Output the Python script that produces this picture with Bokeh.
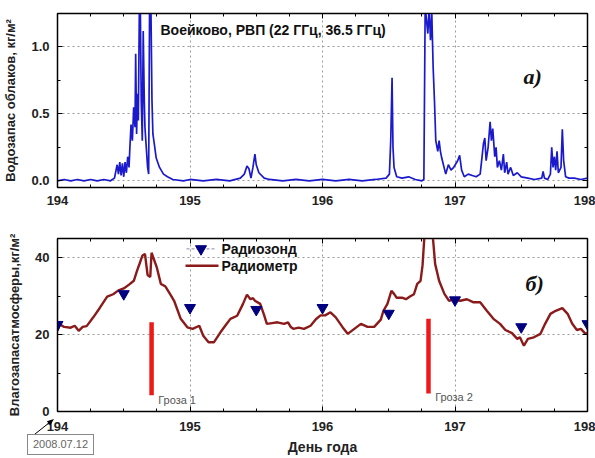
import math
from bokeh.plotting import figure
from bokeh.layouts import column
from bokeh.models import (Range1d, LinearAxis, Label, Div,
                          SingleIntervalTicker, NumeralTickFormatter, CustomJSTickFormatter)
from bokeh.embed import file_html
from bokeh.resources import INLINE

# ---------------- data ----------------
# panel a) cloud liquid water path, kg/m2
lwc_day = [194.00, 194.05, 194.10, 194.15, 194.20, 194.25, 194.30, 194.35, 194.40, 194.43,
           194.45, 194.46, 194.47, 194.48, 194.49, 194.50, 194.51, 194.52, 194.53, 194.54,
           194.545, 194.555, 194.565, 194.575, 194.585, 194.59, 194.597, 194.603, 194.61, 194.618,
           194.625, 194.632, 194.64, 194.647, 194.655, 194.66, 194.67, 194.68, 194.688, 194.695,
           194.705, 194.713, 194.72, 194.73, 194.745, 194.77, 194.80, 194.83, 194.87, 194.95,
           195.00, 195.10, 195.20, 195.30, 195.38, 195.41, 195.43, 195.445, 195.46, 195.475,
           195.49, 195.50, 195.52, 195.56, 195.60, 195.70, 195.80, 195.90, 196.00, 196.10,
           196.20, 196.30, 196.40, 196.48, 196.505, 196.515, 196.525, 196.532, 196.54, 196.56,
           196.60, 196.65, 196.70, 196.75, 196.765, 196.775, 196.785, 196.795, 196.805, 196.815,
           196.825, 196.835, 196.845, 196.855, 196.87, 196.88, 196.89, 196.90, 196.93, 196.95,
           196.97, 196.99, 197.02, 197.035, 197.05, 197.07, 197.10, 197.13, 197.16, 197.19,
           197.215, 197.225, 197.235, 197.25, 197.265, 197.275, 197.285, 197.30, 197.31, 197.32,
           197.335, 197.35, 197.365, 197.375, 197.39, 197.40, 197.42, 197.44, 197.47, 197.50,
           197.55, 197.60, 197.655, 197.665, 197.675, 197.70, 197.72, 197.73, 197.74, 197.75,
           197.76, 197.77, 197.78, 197.80, 197.81, 197.82, 197.835, 197.86, 197.90, 197.95,
           198.00]
lwc_val = [0.00, 0.01, 0.00, 0.01, 0.00, 0.01, 0.00, 0.01, 0.00, 0.02,
           0.12, 0.05, 0.14, 0.04, 0.13, 0.03, 0.14, 0.06, 0.18, 0.10,
           0.22, 0.42, 0.30, 0.55, 0.40, 0.95, 0.35, 0.65, 0.45, 1.30,
           1.30, 0.60, 0.30, 1.12, 0.60, 0.40, 0.25, 0.10, 0.05, 1.30,
           1.30, 0.60, 0.35, 0.28, 0.17, 0.10, 0.05, 0.03, 0.01, 0.00,
           0.01, 0.00, 0.01, 0.00, 0.02, 0.05, 0.11, 0.09, 0.02, 0.10,
           0.20, 0.12, 0.06, 0.02, 0.01, 0.00, 0.01, 0.00, 0.01, 0.00,
           0.01, 0.00, 0.01, 0.02, 0.05, 0.30, 0.77, 0.25, 0.10, 0.03,
           0.02, 0.03, 0.01, 0.00, 0.01, 1.30, 1.20, 1.10, 1.30, 1.05,
           1.25, 0.85, 0.60, 0.30, 0.22, 0.30, 0.22, 0.17, 0.05, 0.12,
           0.08, 0.10, 0.15, 0.19, 0.08, 0.03, 0.05, 0.04, 0.03, 0.05,
           0.28, 0.32, 0.15, 0.25, 0.44, 0.30, 0.39, 0.18, 0.25, 0.10,
           0.15, 0.08, 0.20, 0.06, 0.14, 0.05, 0.10, 0.04, 0.06, 0.03,
           0.02, 0.01, 0.02, 0.07, 0.02, 0.01, 0.05, 0.25, 0.10, 0.18,
           0.08, 0.22, 0.06, 0.10, 0.385, 0.15, 0.03, 0.02, 0.02, 0.01,
           0.02]

# panel b) precipitable water, kg/m2 (radiometer)
pw_day = [194.00, 194.017, 194.05, 194.10, 194.13, 194.16, 194.19, 194.22, 194.27, 194.32,
          194.375, 194.42, 194.46, 194.50, 194.54, 194.576, 194.60, 194.62, 194.64, 194.66,
          194.68, 194.70, 194.71, 194.75, 194.78, 194.815, 194.85, 194.88, 194.93, 194.98,
          195.02, 195.07, 195.10, 195.14, 195.18, 195.23, 195.27, 195.305, 195.356, 195.40,
          195.43, 195.456, 195.475, 195.49, 195.53, 195.56, 195.58, 195.62, 195.66, 195.71,
          195.74, 195.76, 195.78, 195.82, 195.86, 195.91, 195.95, 195.985, 196.02, 196.06,
          196.10, 196.15, 196.19, 196.24, 196.29, 196.34, 196.39, 196.44, 196.46, 196.49,
          196.52, 196.54, 196.56, 196.60, 196.63, 196.66, 196.69, 196.715, 196.74, 196.755,
          196.77, 196.80, 196.83, 196.835, 196.85, 196.88, 196.92, 196.955, 196.99, 197.04,
          197.09, 197.14, 197.19, 197.24, 197.29, 197.34, 197.38, 197.43, 197.47, 197.49,
          197.52, 197.55, 197.595, 197.645, 197.68, 197.72, 197.76, 197.81, 197.85, 197.885,
          197.92, 197.95, 197.985, 198.00]
pw_val = [21.0, 22.7, 22.0, 21.8, 22.3, 21.0, 22.0, 22.2, 24.5, 27.0,
          29.9, 30.5, 31.5, 32.0, 33.0, 34.0, 36.6, 38.5, 40.5, 41.0,
          35.5, 35.0, 41.3, 37.4, 33.2, 32.5, 30.5, 28.8, 24.1, 21.9,
          21.5, 22.3, 19.7, 18.0, 18.0, 20.6, 22.5, 24.1, 24.9, 28.0,
          30.4, 29.2, 29.5, 28.8, 28.0, 25.0, 22.8, 23.0, 23.2, 22.8,
          23.2, 22.0, 21.5, 21.8, 21.5, 22.3, 24.0, 25.0, 25.0, 25.8,
          24.5, 22.0, 20.2, 21.5, 22.8, 22.0, 22.0, 23.9, 26.2, 28.0,
          31.4, 30.6, 29.6, 29.6, 29.2, 29.9, 30.5, 33.2, 34.0, 38.0,
          46.0, 50.0, 46.5, 44.5, 38.4, 34.0, 30.6, 28.8, 29.2, 28.8,
          29.2, 28.4, 28.4, 26.2, 24.1, 22.8, 21.2, 20.4, 18.9, 19.3,
          17.1, 18.9, 19.3, 20.2, 22.8, 25.4, 26.2, 26.9, 25.4, 22.8,
          21.2, 21.5, 20.2, 20.5]

# radiosonde
rs_day = [194.0, 194.5, 195.0, 195.5, 196.0, 196.5, 197.0, 197.5, 198.0]
rs_val = [22.6, 30.6, 27.0, 26.5, 27.0, 25.5, 29.0, 22.0, 22.8]

# thunderstorms
storm_day = [194.71, 196.80]
storm_top = [23.2, 24.1]
storm_bottom = [4.2, 4.7]
storm_labels = ["Гроза 1", "Гроза 2"]

start_date = "2008.07.12"

FONT = "Liberation Sans"
GRID_DASH = "2 3"
W = 595
LEFT, RIGHT = 57, 8
PPD = (W - LEFT - RIGHT) / 4.0     # pixels per day
H1, H2 = 212, 246


def px2day(px):
    return 194 + (px - LEFT) / PPD


def empty_axis(tk):
    a = LinearAxis(ticker=tk, formatter=CustomJSTickFormatter(code="return ''"))
    a.major_label_text_font_size = "1px"
    a.major_label_standoff = 0
    a.major_tick_in = 5
    a.major_tick_out = 0
    a.minor_tick_in = 3
    a.minor_tick_out = 0
    a.axis_line_color = "black"
    return a


def style(p, y_ticker, y_fmt=None):
    x_ticker = SingleIntervalTicker(interval=1, num_minor_ticks=4)
    xa, ya = p.below[0], p.left[0]
    xa.ticker = x_ticker
    ya.ticker = y_ticker
    if y_fmt:
        ya.formatter = NumeralTickFormatter(format=y_fmt)
    for ax in (xa, ya):
        ax.major_tick_in = 5
        ax.major_tick_out = 0
        ax.minor_tick_in = 3
        ax.minor_tick_out = 0
        ax.major_label_text_font = FONT
        ax.major_label_text_font_style = "bold"
        ax.major_label_text_font_size = "13px"
        ax.major_label_text_color = "#222222"
        ax.major_label_standoff = 8
        ax.axis_line_color = "black"
        ax.axis_label_text_font = FONT
        ax.axis_label_text_font_style = "bold"
        ax.axis_label_text_font_size = "13px"
        ax.axis_label_text_color = "#222222"
    p.xgrid.ticker = x_ticker
    p.ygrid.ticker = y_ticker
    for g in (p.xgrid[0], p.ygrid[0]):
        g.grid_line_color = "#9a9a9a"
        g.grid_line_dash = GRID_DASH
        g.grid_line_width = 1
    p.outline_line_color = "black"
    p.outline_line_width = 1.5
    p.add_layout(empty_axis(SingleIntervalTicker(interval=1, num_minor_ticks=4)), "above")
    p.add_layout(empty_axis(y_ticker), "right")


# ---------------- panel a ----------------
p1 = figure(width=W, height=H1, x_range=Range1d(194, 198), y_range=Range1d(-0.05, 1.25),
            output_backend="svg", toolbar_location=None,
            min_border_left=LEFT, min_border_right=RIGHT, min_border_top=13, min_border_bottom=25)
style(p1, SingleIntervalTicker(interval=0.5, num_minor_ticks=2), "0.0")
p1.left[0].axis_label = "Водозапас облаков, кг/м²"
p1.left[0].axis_label_standoff = 10
p1.line(lwc_day, lwc_val, line_color="#1a1acc", line_width=1.7)
p1.add_layout(Label(x=px2day(160), y=1.127, text="Воейково, РВП (22 ГГц, 36.5 ГГц)",
                    text_font=FONT, text_font_style="bold", text_font_size="14px",
                    text_color="#111111", text_baseline="middle"))
p1.add_layout(Label(x=px2day(523), y=0.78, text="a)", text_font="Liberation Serif",
                    text_font_style="bold italic", text_font_size="22px",
                    text_color="#111111", text_baseline="middle"))

# ---------------- panel b ----------------
p2 = figure(width=W, height=H2, x_range=Range1d(194, 198), y_range=Range1d(0, 45),
            output_backend="svg", toolbar_location=None,
            min_border_left=LEFT, min_border_right=RIGHT, min_border_top=26, min_border_bottom=47)
style(p2, SingleIntervalTicker(interval=20, num_minor_ticks=2))
p2.left[0].axis_label = "Влагозапасатмосферы,кг/м²"
p2.left[0].axis_label_standoff = 10
p2.below[0].major_label_standoff = 10
p2.below[0].axis_label = "День года"
p2.below[0].axis_label_standoff = 5
p2.below[0].axis_label_text_font_size = "14px"

p2.segment(x0=storm_day, y0=storm_bottom, x1=storm_day, y1=storm_top,
           line_color="#ee1a1a", line_width=4.5)
for d, lab, yy in zip(storm_day, storm_labels, [3.1, 3.9]):
    p2.add_layout(Label(x=d + 0.05, y=yy, text=lab, text_font=FONT, text_font_size="11px",
                        text_color="#555555", text_baseline="middle"))

p2.line(pw_day, pw_val, line_color="#8b1a1a", line_width=2.4)
p2.scatter(rs_day, rs_val, marker="inverted_triangle", size=11, color="#000080")

# legend
p2.line([px2day(186), px2day(215)], [42.3, 42.3], line_color="#8888aa", line_width=1,
        line_dash="3 2")
p2.scatter([px2day(200.5)], [42.3], marker="inverted_triangle", size=11, color="#000080")
p2.line([px2day(185), px2day(218)], [37.9, 37.9], line_color="#8b1a1a", line_width=2.4)
for yy, t in ((42.3, "Радиозонд"), (37.9, "Радиометр")):
    p2.add_layout(Label(x=px2day(221), y=yy, text=t, text_font=FONT, text_font_style="bold",
                        text_font_size="14px", text_color="#111111", text_baseline="middle"))

p2.add_layout(Label(x=px2day(525), y=33.2, text="б)", text_font="Liberation Serif",
                    text_font_style="bold italic", text_font_size="22px",
                    text_color="#111111", text_baseline="middle"))

# ---------------- date box with arrow pointing at the start of the axis ----------------
TOP = 404                       # page row where the overlay starts
LEFT_OV = -9
ax0, ay0, ax1, ay1 = 34, 29, 58, 10      # arrow inside the overlay (px)
ux, uy = ax1 - ax0, ay1 - ay0
ln = math.hypot(ux, uy)
ux, uy = ux / ln, uy / ln
hl, hw = 7.0, 2.6
bx, by = ax1 - hl * ux, ay1 - hl * uy
head = "%.1f,%.1f %.1f,%.1f %.1f,%.1f" % (ax1, ay1, bx - hw * uy, by + hw * ux, bx + hw * uy, by - hw * ux)
svg = (
    '<svg xmlns="http://www.w3.org/2000/svg" width="110" height="50" '
    'style="display:block;overflow:visible">'
    '<line x1="%d" y1="%d" x2="%.1f" y2="%.1f" stroke="black" stroke-width="1"/>'
    '<polygon points="%s" fill="black"/>'
    '<rect x="31.5" y="25.5" width="66" height="20" fill="white" stroke="#888888" stroke-width="1"/>'
    '<text x="64.5" y="36" font-family="Liberation Sans" font-size="11" fill="#666666" '
    'text-anchor="middle" dominant-baseline="middle">%s</text>'
    '</svg>'
) % (ax0, ay0, bx, by, head, start_date)
overlay = Div(text=svg, width=110, height=50,
              styles={"position": "absolute", "left": "%dpx" % LEFT_OV, "top": "%dpx" % TOP,
                      "z-index": "10", "pointer-events": "none"})

layout = column(p1, p2, overlay, spacing=0)
open("out.html", "w").write(file_html(layout, INLINE))
